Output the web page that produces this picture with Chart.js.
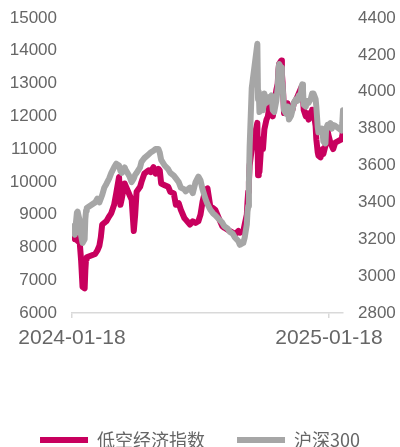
<!DOCTYPE html>
<html><head><meta charset="utf-8">
<script src="https://cdn.jsdelivr.net/npm/chart.js@4"></script>
<style>html,body{margin:0;padding:0;background:#fff}#wrap{width:400px;height:447px}</style>
</head><body><div id="wrap"><canvas id="c" width="400" height="447"></canvas></div>
<script>
const dates = ['2024-01-18','2024-01-22','2024-01-25','2024-01-26','2024-01-29','2024-01-31','2024-02-02','2024-02-05','2024-02-06','2024-02-07','2024-02-08','2024-02-20','2024-02-23','2024-02-26','2024-02-28','2024-03-01','2024-03-04','2024-03-07','2024-03-11','2024-03-14','2024-03-18','2024-03-21','2024-03-25','2024-03-27','2024-03-29','2024-04-02','2024-04-03','2024-04-09','2024-04-12','2024-04-15','2024-04-17','2024-04-19','2024-04-24','2024-04-26','2024-04-30','2024-05-06','2024-05-09','2024-05-13','2024-05-16','2024-05-20','2024-05-22','2024-05-24','2024-05-29','2024-06-03','2024-06-06','2024-06-11','2024-06-14','2024-06-18','2024-06-21','2024-06-26','2024-06-28','2024-07-04','2024-07-08','2024-07-12','2024-07-16','2024-07-19','2024-07-22','2024-07-26','2024-07-29','2024-08-02','2024-08-06','2024-08-09','2024-08-14','2024-08-19','2024-08-22','2024-08-26','2024-08-30','2024-09-03','2024-09-06','2024-09-11','2024-09-13','2024-09-18','2024-09-20','2024-09-23','2024-09-24','2024-09-25','2024-09-26','2024-09-27','2024-09-30','2024-10-08','2024-10-09','2024-10-10','2024-10-11','2024-10-14','2024-10-16','2024-10-18','2024-10-21','2024-10-23','2024-10-25','2024-10-28','2024-10-30','2024-11-01','2024-11-04','2024-11-06','2024-11-07','2024-11-08','2024-11-11','2024-11-12','2024-11-13','2024-11-14','2024-11-15','2024-11-18','2024-11-20','2024-11-22','2024-11-25','2024-11-27','2024-11-29','2024-12-02','2024-12-04','2024-12-06','2024-12-09','2024-12-10','2024-12-11','2024-12-12','2024-12-13','2024-12-16','2024-12-18','2024-12-20','2024-12-23','2024-12-25','2024-12-27','2024-12-30','2024-12-31','2025-01-02','2025-01-03','2025-01-06','2025-01-08','2025-01-09','2025-01-10','2025-01-13','2025-01-14','2025-01-16','2025-01-17','2025-01-20','2025-01-22','2025-01-24','2025-01-27','2025-02-05','2025-02-06','2025-02-07'];

const lowAltitudeIndex = [8600,8250,8300,8200,8150,7600,6800,6750,7300,7650,7700,7800,7900,8050,8300,8700,8750,8800,8950,9050,9300,9650,10150,9300,9500,9950,9900,9600,9450,8500,9000,9700,9850,10000,10250,10350,10300,10450,10250,10400,10350,9950,9900,9850,9700,9650,9300,9350,9150,8900,8850,8700,8800,8750,8800,9000,9400,9750,9800,9250,9200,9150,8900,8650,8600,8550,8500,8450,8400,8500,8450,8500,8700,9000,9400,9700,10000,10500,11000,11800,10200,10600,10300,11300,11000,11600,11900,12000,12300,12100,12000,12300,12800,13000,13400,13600,13700,13300,13000,12600,12100,12200,12400,12000,12300,12200,12400,12500,12600,12700,12850,12900,12800,12600,12200,12000,12100,11900,12000,12200,12150,11700,11300,10900,10800,10750,10950,11000,10850,11100,11400,11600,11450,11200,11100,11000,11200,11300,11400,11600];

const csi300 = [3270,3225,3345,3350,3300,3220,3180,3200,3310,3355,3370,3400,3420,3400,3420,3440,3480,3500,3530,3560,3590,3610,3600,3570,3560,3590,3580,3540,3510,3530,3550,3560,3590,3620,3640,3660,3670,3680,3690,3690,3670,3630,3600,3580,3560,3545,3530,3510,3480,3470,3460,3480,3450,3510,3540,3520,3470,3420,3390,3360,3340,3330,3310,3290,3270,3260,3240,3230,3210,3190,3170,3180,3210,3280,3350,3380,3510,3700,4020,4260,3960,4000,3890,3960,3900,3990,3940,3970,3960,3980,3900,3890,3950,4020,4120,4150,4130,4050,4040,3960,3900,3880,3920,3850,3870,3900,3940,3960,3950,3980,3990,4030,4040,4010,3930,3920,3950,3940,3960,3990,3990,3960,3920,3810,3780,3780,3800,3780,3730,3720,3800,3820,3810,3830,3800,3820,3815,3790,3830,3900];

const xTickDates = ['2024-01-18','2025-01-18'];
const leftAxis = {min: 6000, max: 15000, step: 1000};
const rightAxis = {min: 2800, max: 4400, step: 200};
const seriesNames = ['低空经济指数','沪深300'];

const base = Date.UTC(2024,0,18);
const dayOf = s => (Date.parse(s + 'T00:00:00Z') - base) / 86400000;
const toPoints = vals => vals.map((v,i) => ({x: dayOf(dates[i]), y: v}));

const PINK = '#C8005E', GRAY = '#A6A6A6', TXT = '#666666';
const numFont = {family: 'Liberation Sans', size: 17};

new Chart(document.getElementById('c'), {
  type: 'line',
  data: {
    datasets: [
      {label: seriesNames[0], data: toPoints(lowAltitudeIndex), yAxisID: 'y', borderColor: PINK, backgroundColor: PINK,
       borderWidth: 6, pointRadius: 0, tension: 0, borderJoinStyle: 'round', borderCapStyle: 'round', order: 1},
      {label: seriesNames[1], data: toPoints(csi300), yAxisID: 'y2', borderColor: GRAY, backgroundColor: GRAY,
       borderWidth: 6, pointRadius: 0, tension: 0, borderJoinStyle: 'round', borderCapStyle: 'round', order: 0}
    ]
  },
  options: {
    responsive: false, animation: false, devicePixelRatio: 1,
    layout: {padding: {top: 18, left: 0, right: 0, bottom: 0}},
    plugins: {
      tooltip: {enabled: false},
      legend: {
        position: 'bottom', maxHeight: 48,
        labels: {usePointStyle: true, pointStyle: 'line', pointStyleWidth: 48, padding: 32,
          color: TXT, font: {family: 'Noto Sans CJK SC', size: 18},
          sort: (a, b) => a.datasetIndex - b.datasetIndex}
      }
    },
    scales: {
      x: {
        type: 'linear', min: 0, max: dayOf(dates[dates.length - 1]),
        afterBuildTicks: s => { s.ticks = xTickDates.map(d => ({value: dayOf(d)})); },
        afterFit: s => { s.height = 86; },
        ticks: {autoSkip: false, maxRotation: 0, padding: 8, color: TXT,
          font: {family: 'Liberation Sans', size: 21},
          callback: v => { const f = xTickDates.find(d => dayOf(d) === v); return f || ''; }},
        grid: {display: true, drawOnChartArea: false, drawTicks: true, tickLength: 5, color: '#D9D9D9', lineWidth: 1.5},
        border: {display: true, color: '#D9D9D9', width: 1.5}
      },
      y: {
        position: 'left', min: leftAxis.min, max: leftAxis.max,
        afterFit: s => { s.width = 72; s.paddingTop = 0; s.paddingBottom = 0; },
        ticks: {stepSize: leftAxis.step, padding: 15, color: TXT, font: numFont, callback: v => String(v)},
        grid: {display: false, drawTicks: false}, border: {display: false}
      },
      y2: {
        position: 'right', min: rightAxis.min, max: rightAxis.max,
        afterFit: s => { s.width = 57; s.paddingTop = 0; s.paddingBottom = 0; },
        ticks: {stepSize: rightAxis.step, padding: 15, color: TXT, font: numFont, callback: v => String(v)},
        grid: {display: false, drawTicks: false}, border: {display: false}
      }
    }
  }
});
</script></body></html>
